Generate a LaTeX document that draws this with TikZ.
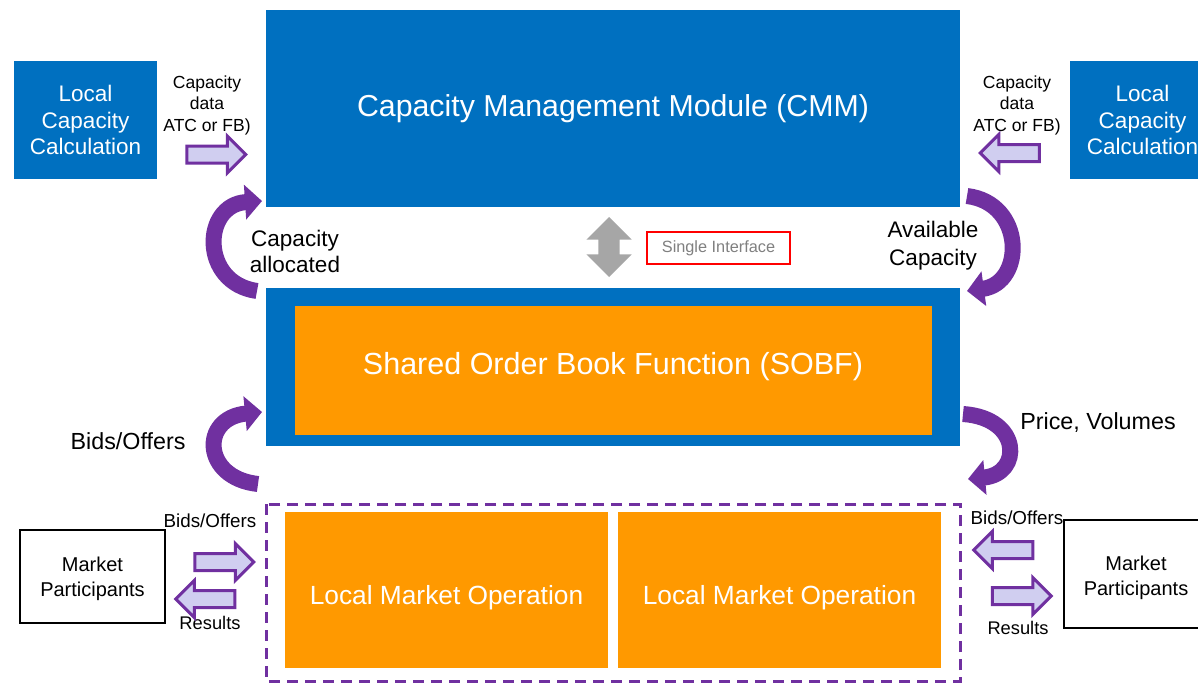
\documentclass[tikz,border=0pt]{standalone}
\usepackage{fontspec}
\setmainfont{Liberation Sans}
\usetikzlibrary{shapes.arrows,arrows.meta}
\definecolor{cmmblue}{RGB}{0,112,192}
\definecolor{sobforange}{RGB}{255,153,0}
\definecolor{flowpurple}{RGB}{112,48,160}
\definecolor{flowfill}{RGB}{208,206,240}
\definecolor{ifgray}{RGB}{166,166,166}
\definecolor{ifred}{RGB}{255,0,0}
\definecolor{iftext}{RGB}{128,128,128}
\newcommand{\fsz}[2]{\fontsize{#1}{#2}\selectfont}

\begin{document}
\begin{tikzpicture}[x=1pt,y=-1pt,
  bluebox/.style={fill=cmmblue, draw=none, text=white, align=center, inner sep=0},
  orangebox/.style={fill=sobforange, draw=none, text=white, align=center, inner sep=0},
  plainbox/.style={draw=black, line width=1.5pt, fill=white, align=center, inner sep=0},
  txt/.style={align=center, text=black, inner sep=0},
  flowarrow/.style={single arrow, draw=flowpurple, fill=flowfill, line width=3pt,
    minimum height=59pt, inner xsep=0pt, inner ysep=7pt, single arrow head extend=10pt},
  bendarrow/.style={draw=flowpurple, line width=16pt,
    -{Triangle[length=17pt,width=34pt]}}]

\useasboundingbox (0,0) rectangle (1198,683);
\clip (0,0) rectangle (1198,683);
\fill[white] (0,0) rectangle (1198,683);

% main modules
\node[bluebox, minimum width=694pt, minimum height=197pt, font=\fsz{30.3}{35}] (cmm) at (613,108.5)
  {Capacity Management Module (CMM)};
\node[bluebox, minimum width=694pt, minimum height=158pt] (sobfframe) at (613,367) {};
\node[orangebox, minimum width=637pt, minimum height=129pt] (sobf) at (613.5,370.5) {};
\node[txt, text=white, font=\fsz{30.5}{35}] (sobftext) at (613,367) {Shared Order Book Function (SOBF)};

% local capacity calculation
\node[bluebox, minimum width=143pt, minimum height=118pt, font=\fsz{22.5}{26.5}] (lccL) at (85.5,120)
  {Local\\Capacity\\Calculation};
\node[bluebox, minimum width=145pt, minimum height=118pt, font=\fsz{22.5}{26.5}] (lccR) at (1142.5,120)
  {Local\\Capacity\\Calculation};

\node[txt, font=\fsz{17.5}{21.5}] (capdataL) at (207,105) {Capacity\\data\\ATC or FB)};
\node[txt, font=\fsz{17.5}{21.5}] (capdataR) at (1017,105) {Capacity\\data\\ATC or FB)};
\node[flowarrow] (arrLccL) at (212,154.5) {};
\node[flowarrow, rotate=180] (arrLccR) at (1014,153) {};

% single interface between CMM and SOBF
\node[double arrow, fill=ifgray, draw=none, rotate=90, minimum height=60pt,
  inner sep=10.5pt, double arrow head extend=12pt] (iface) at (609,247) {};
\node[draw=ifred, line width=2pt, minimum width=143pt, minimum height=32pt,
  inner sep=0, text=iftext, font=\fsz{16.3}{19}] (ifacebox) at (718.5,248) {Single Interface};

% capacity flows
\coordinate (alloc0) at (257,291);
\coordinate (alloc1) at (262,201);
\draw[bendarrow] (alloc0) .. controls (200,283) and (202,205) .. (alloc1);
\node[txt, font=\fsz{22.5}{26}] (alloctext) at (295,251) {Capacity\\allocated};

\coordinate (avail0) at (967,196);
\coordinate (avail1) at (967,291);
\draw[bendarrow] (avail0) .. controls (1025,203) and (1025,283) .. (avail1);
\node[txt, font=\fsz{22.5}{28}] (availtext) at (933,246) {Available\\Capacity};

% order flows
\coordinate (bids0) at (258,484);
\coordinate (bids1) at (262,412);
\draw[bendarrow] (bids0) .. controls (202,478) and (200,418) .. (bids1);
\node[txt, font=\fsz{23.3}{27}] (bidstext) at (128,441) {Bids/Offers};

\coordinate (price0) at (963,414);
\coordinate (price1) at (968,479);
\draw[bendarrow] (price0) .. controls (1022,418) and (1022,474) .. (price1);
\node[txt, font=\fsz{23.3}{27}] (pricetext) at (1098,423) {Price, Volumes};

% local market operations
\draw[flowpurple, line width=3pt, dash pattern=on 11pt off 7pt] (266,504) rectangle (960,681);
\node[orangebox, minimum width=323pt, minimum height=156pt] (lmoA) at (446.5,590) {};
\node[txt, text=white, font=\fsz{26.3}{30}] (lmoAtext) at (446.5,598) {Local Market Operation};
\node[orangebox, minimum width=323pt, minimum height=156pt] (lmoB) at (779.5,590) {};
\node[txt, text=white, font=\fsz{26.3}{30}] (lmoBtext) at (779.5,598) {Local Market Operation};

% market participants
\node[plainbox, minimum width=145pt, minimum height=93pt] (mpL) at (92.5,576.5) {};
\node[txt, font=\fsz{20}{25}] (mpLtext) at (92.5,579) {Market\\Participants};
\node[plainbox, minimum width=146pt, minimum height=108pt] (mpR) at (1137,574) {};
\node[txt, font=\fsz{20}{25}] (mpRtext) at (1136,578) {Market\\Participants};

\node[txt, font=\fsz{18.8}{22}] (mpLbids) at (210,521) {Bids/Offers};
\node[txt, font=\fsz{18.3}{22}] (mpLres) at (210,623) {Results};
\node[flowarrow] (mpLin) at (220,562) {};
\node[flowarrow, rotate=180] (mpLout) at (209.5,599) {};

\node[txt, font=\fsz{18.8}{22}] (mpRbids) at (1017,518) {Bids/Offers};
\node[txt, font=\fsz{18.3}{22}] (mpRres) at (1018,628) {Results};
\node[flowarrow, rotate=180] (mpRin) at (1007.5,550) {};
\node[flowarrow] (mpRout) at (1017.5,596) {};
\end{tikzpicture}
\end{document}
